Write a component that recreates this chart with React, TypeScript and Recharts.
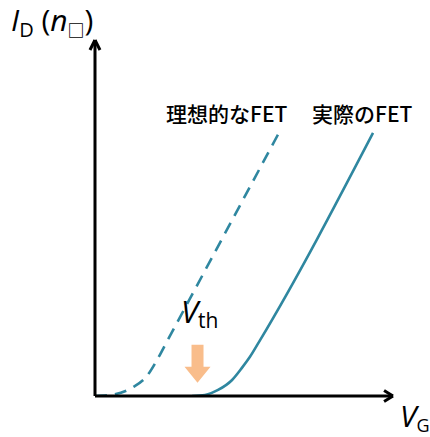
import { LineChart, Line, XAxis, YAxis, ReferenceLine, ReferenceDot } from 'recharts'

// transfer curves: gate voltage vs drain current (arbitrary units)
const idealVg = [0, 0.6, 1.28, 1.74, 2.08, 2.42, 6.17]
const idealId = [0, 0.04, 0.25, 0.56, 1.01, 1.54, 7.39]
const realVg = [3.26, 3.69, 4.13, 4.6, 4.93, 5.2, 5.54, 9.33]
const realId = [0, 0.03, 0.17, 0.45, 0.79, 1.1, 1.57, 7.39]

const vthMark = { x: 3.44, y: 0.37 }

const idealData = idealVg.map((vg, i) => ({ vg, id: idealId[i] }))
const realData = realVg.map((vg, i) => ({ vg, id: realId[i] }))

const W = 430
const H = 437
const CURVE = '#2f87a0'
const latin = '"Open Sans", "Noto Sans", sans-serif'
const cjk = '"Noto Sans CJK JP", sans-serif'

const DownArrow = (props: any) => {
  const { cx, cy } = props
  const pts = [
    [cx, cy],
    [cx - 13, cy - 16],
    [cx - 6, cy - 16],
    [cx - 6, cy - 38],
    [cx + 6, cy - 38],
    [cx + 6, cy - 16],
    [cx + 13, cy - 16],
  ]
  return <polygon points={pts.map((p) => p.join(',')).join(' ')} fill="#f9bd8b" />
}

const abs = (left: number, top: number, extra: React.CSSProperties = {}): React.CSSProperties => ({
  position: 'absolute',
  left,
  top,
  lineHeight: 1,
  whiteSpace: 'nowrap',
  color: '#000',
  ...extra,
})

export default function App() {
  return (
    <div style={{ position: 'absolute', left: 0, top: 0, width: W, height: H, background: '#fff' }}>
      <LineChart width={W} height={H} margin={{ top: 40, right: 37, bottom: 40, left: 94 }}>
        <XAxis
          type="number"
          dataKey="vg"
          domain={[0, 10]}
          allowDataOverflow
          tick={false}
          tickLine={false}
          height={1}
          axisLine={{ stroke: '#000', strokeWidth: 3 }}
        />
        <YAxis
          type="number"
          dataKey="id"
          domain={[0, 10]}
          allowDataOverflow
          tick={false}
          tickLine={false}
          width={1}
          axisLine={{ stroke: '#000', strokeWidth: 3 }}
        />
        {/* arrowheads on both axes */}
        <ReferenceLine segment={[{ x: -0.168, y: 9.72 }, { x: 0, y: 10 }]} stroke="#000" strokeWidth={3} ifOverflow="visible" />
        <ReferenceLine segment={[{ x: 0.168, y: 9.72 }, { x: 0, y: 10 }]} stroke="#000" strokeWidth={3} ifOverflow="visible" />
        <ReferenceLine segment={[{ x: 9.7, y: 0.154 }, { x: 10, y: 0 }]} stroke="#000" strokeWidth={3} ifOverflow="visible" />
        <ReferenceLine segment={[{ x: 9.7, y: -0.154 }, { x: 10, y: 0 }]} stroke="#000" strokeWidth={3} ifOverflow="visible" />
        <Line
          data={idealData}
          dataKey="id"
          type="monotone"
          stroke={CURVE}
          strokeWidth={2.6}
          strokeDasharray="12 8"
          dot={false}
          isAnimationActive={false}
        />
        <Line
          data={realData}
          dataKey="id"
          type="monotone"
          stroke={CURVE}
          strokeWidth={2.6}
          dot={false}
          isAnimationActive={false}
        />
        <ReferenceDot x={vthMark.x} y={vthMark.y} shape={DownArrow} ifOverflow="visible" />
      </LineChart>

      {/* axis titles and annotations */}
      <div style={abs(11, 5, { fontFamily: latin, fontSize: 30 })}>
        <span style={{ fontStyle: 'italic' }}>I</span>
        <span style={{ fontSize: 20, position: 'relative', top: 6 }}>D</span>
        <span> (</span>
        <span style={{ fontStyle: 'italic' }}>n</span>
        <span style={{ fontFamily: cjk, fontSize: 17, fontWeight: 700, position: 'relative', top: 6 }}>□</span>
        <span>)</span>
      </div>
      <div style={abs(400, 401, { fontFamily: latin, fontSize: 30 })}>
        <span style={{ fontStyle: 'italic' }}>V</span>
        <span style={{ fontSize: 18, position: 'relative', top: 5 }}>G</span>
      </div>
      <div style={abs(181, 296, { fontFamily: latin, fontSize: 31 })}>
        <span style={{ fontStyle: 'italic' }}>V</span>
        <span style={{ fontSize: 21, position: 'relative', top: 5 }}>th</span>
      </div>
      <div style={abs(166, 103, { fontFamily: cjk, fontSize: 21, fontWeight: 500 })}>理想的なFET</div>
      <div style={abs(312, 103, { fontFamily: cjk, fontSize: 21, fontWeight: 500 })}>実際のFET</div>
    </div>
  )
}
